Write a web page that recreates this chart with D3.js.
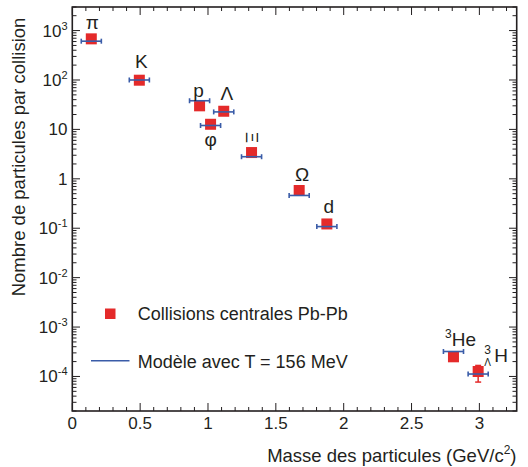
<!DOCTYPE html>
<html>
<head>
<meta charset="utf-8">
<script src="https://cdnjs.cloudflare.com/ajax/libs/d3/7.8.5/d3.min.js"></script>
<style>
body { margin: 0; background: #fff; }
svg text { font-family: "Liberation Sans", Arial, Helvetica, sans-serif; fill: #231f20; }
</style>
</head>
<body>
<div id="chart"></div>
<script>
// particle labels, masses (GeV/c^2), measured yields, model yields
var particles = ["π", "K", "p", "φ", "Λ", "Ξ", "Ω", "d", "3He", "3ΛH"];
var masses = [0.140, 0.494, 0.938, 1.019, 1.116, 1.321, 1.672, 1.876, 2.809, 2.991];
var yields = [680, 99, 30, 12.7, 23.3, 3.4, 0.58, 0.122, 2.5e-4, 1.26e-4];
var yieldLow = [null, null, null, null, null, null, null, null, 2.1e-4, 7.7e-5];
var yieldHigh = [null, null, null, null, null, null, null, null, 2.6e-4, 1.67e-4];
var model = [610, 100, 38, 12, 22.6, 2.8, 0.46, 0.108, 3.2e-4, 1.12e-4];
var xTicks = [0, 0.5, 1, 1.5, 2, 2.5, 3];
var yTicks = [-4, -3, -2, -1, 0, 1, 2, 3];
var legendItems = ["Collisions centrales Pb-Pb", "Modèle avec T = 156 MeV"];

var width = 528, height = 467;
var red = "#e42a2a", blue = "#3a5ca8", ink = "#231f20";

var svg = d3.select("#chart").append("svg")
  .attr("width", width)
  .attr("height", height);

var x = d3.scaleLinear().domain([0, 3.275]).range([72.3, 516.7]);
var y = d3.scaleLog().domain([2e-5, 3000]).range([411, 7]);

// label offsets from the marker (px)
var labelOff = [[1, -10], [2, -12], [-1, -9], [0, 22], [3, -11], [0, -15], [3, -10], [2, -11], [7, -11], [5, -10]];

// ---- ticks
var minorX = d3.range(0, 3.25, 0.1).map(function(d){ return +d.toFixed(2); });
var minorY = [];
yTicks.concat([-5]).forEach(function(e){
  for (var k = 2; k < 10; k++) {
    var v = k * Math.pow(10, e);
    if (v >= 2e-5 && v <= 3000) minorY.push(v);
  }
});

var g = svg.append("g");

g.selectAll("line.xminor").data(minorX).enter().append("line")
  .attr("x1", x).attr("x2", x).attr("y1", 411).attr("y2", function(d){
    return xTicks.indexOf(d) >= 0 ? 403 : 407; })
  .attr("stroke", ink).attr("stroke-width", 1);
g.selectAll("line.xminortop").data(minorX).enter().append("line")
  .attr("x1", x).attr("x2", x).attr("y1", 7).attr("y2", function(d){
    return xTicks.indexOf(d) >= 0 ? 15 : 11; })
  .attr("stroke", ink).attr("stroke-width", 1);

g.selectAll("line.ymaj").data(yTicks).enter().append("line")
  .attr("x1", 72.3).attr("x2", 80)
  .attr("y1", function(d){ return y(Math.pow(10, d)); })
  .attr("y2", function(d){ return y(Math.pow(10, d)); })
  .attr("stroke", ink).attr("stroke-width", 1);
g.selectAll("line.ymin").data(minorY).enter().append("line")
  .attr("x1", 72.3).attr("x2", 76.5)
  .attr("y1", y).attr("y2", y)
  .attr("stroke", ink).attr("stroke-width", 1);
g.selectAll("line.ymajr").data(yTicks).enter().append("line")
  .attr("x1", 516.7).attr("x2", 509)
  .attr("y1", function(d){ return y(Math.pow(10, d)); })
  .attr("y2", function(d){ return y(Math.pow(10, d)); })
  .attr("stroke", ink).attr("stroke-width", 1);
g.selectAll("line.yminr").data(minorY).enter().append("line")
  .attr("x1", 516.7).attr("x2", 512.5)
  .attr("y1", y).attr("y2", y)
  .attr("stroke", ink).attr("stroke-width", 1);

// frame
svg.append("rect")
  .attr("x", 72.3).attr("y", 7)
  .attr("width", 516.7 - 72.3).attr("height", 404)
  .attr("fill", "none").attr("stroke", ink).attr("stroke-width", 1.6);

// tick labels
svg.selectAll("text.xl").data(xTicks).enter().append("text")
  .attr("x", x).attr("y", 429)
  .attr("text-anchor", "middle")
  .style("font-size", "17px")
  .text(function(d){ return d; });

var yl = svg.selectAll("text.yl").data(yTicks).enter().append("text")
  .attr("x", 67.5)
  .attr("y", function(d){ return y(Math.pow(10, d)) + 6; })
  .attr("text-anchor", "end")
  .style("font-size", "17px");
yl.each(function(d){
  var t = d3.select(this);
  if (d === 0) { t.text("1"); return; }
  if (d === 1) { t.text("10"); return; }
  t.append("tspan").text("10");
  t.append("tspan").attr("dy", -7).style("font-size", "11px").text(d);
});

// axis titles
svg.append("text")
  .attr("x", 516.5).attr("y", 461.5)
  .attr("text-anchor", "end")
  .style("font-size", "18.5px")
  .html('Masse des particules (GeV/c<tspan dy="-8" font-size="12px">2</tspan><tspan dy="8">)</tspan>');

svg.append("text")
  .attr("transform", "translate(25,157) rotate(-90)")
  .attr("text-anchor", "middle")
  .style("font-size", "18.5px")
  .text("Nombre de particules par collision");

// ---- data
var idx = d3.range(particles.length);
var hw = 0.074;

// vertical errors
var err = idx.filter(function(i){ return yieldLow[i] !== null; });
svg.selectAll("line.err").data(err).enter().append("line")
  .attr("x1", function(i){ return x(masses[i]); })
  .attr("x2", function(i){ return x(masses[i]); })
  .attr("y1", function(i){ return y(yieldLow[i]); })
  .attr("y2", function(i){ return y(yieldHigh[i]); })
  .attr("stroke", red).attr("stroke-width", 1.5);
svg.selectAll("line.errcap").data(err.concat(err)).enter().append("line")
  .attr("x1", function(i){ return x(masses[i]) - 3; })
  .attr("x2", function(i){ return x(masses[i]) + 3; })
  .attr("y1", function(i, k){ return y(k < err.length ? yieldLow[i] : yieldHigh[i]); })
  .attr("y2", function(i, k){ return y(k < err.length ? yieldLow[i] : yieldHigh[i]); })
  .attr("stroke", red).attr("stroke-width", 1.5);

svg.selectAll("rect.pt").data(idx).enter().append("rect")
  .attr("x", function(i){ return x(masses[i]) - 5.5; })
  .attr("y", function(i){ return y(yields[i]) - 5.5; })
  .attr("width", 11).attr("height", 11)
  .attr("fill", red);

// model bars
var mg = svg.selectAll("g.model").data(idx).enter().append("g")
  .attr("stroke", blue).attr("stroke-width", 1.6);
mg.append("line")
  .attr("x1", function(i){ return x(masses[i] - hw); })
  .attr("x2", function(i){ return x(masses[i] + hw); })
  .attr("y1", function(i){ return y(model[i]); })
  .attr("y2", function(i){ return y(model[i]); });
[-1, 1].forEach(function(s){
  mg.append("line")
    .attr("x1", function(i){ return x(masses[i] + s * hw); })
    .attr("x2", function(i){ return x(masses[i] + s * hw); })
    .attr("y1", function(i){ return y(model[i]) - 2.5; })
    .attr("y2", function(i){ return y(model[i]) + 2.5; });
});

// particle labels
idx.forEach(function(i){
  var px = x(masses[i]) + labelOff[i][0], py = y(yields[i]) + labelOff[i][1];
  var name = particles[i];
  var t = svg.append("text").style("font-size", "19px");
  if (name === "3He") {
    t.attr("x", px).attr("y", py).attr("text-anchor", "middle");
    t.append("tspan").style("font-size", "12px").attr("dy", -8).text("3");
    t.append("tspan").attr("dy", 8).text("He");
  } else if (name === "3ΛH") {
    svg.append("text").attr("x", px + 1).attr("y", py - 8).style("font-size", "12px").text("3");
    svg.append("text").attr("x", px + 1).attr("y", py + 4).style("font-size", "10px").text("Λ");
    t.attr("x", px + 11).attr("y", py).text("H");
  } else if (name === "Ξ") {
    t.attr("transform", "translate(" + px + "," + py + ") rotate(90)")
      .attr("text-anchor", "middle").attr("dy", "0.35em").style("font-size", "17px").text(name);
  } else {
    t.attr("x", px).attr("y", py).attr("text-anchor", "middle").text(name);
  }
});

// legend
svg.append("rect")
  .attr("x", 105).attr("y", 308.5).attr("width", 10.5).attr("height", 10.5)
  .attr("fill", red);
svg.append("line")
  .attr("x1", 91).attr("x2", 129.5).attr("y1", 360.7).attr("y2", 360.7)
  .attr("stroke", blue).attr("stroke-width", 1.6);
svg.selectAll("text.leg").data(legendItems).enter().append("text")
  .attr("x", 137.7)
  .attr("y", function(d, i){ return i === 0 ? 319.5 : 368; })
  .style("font-size", "18px")
  .text(function(d){ return d; });
</script>
</body>
</html>
